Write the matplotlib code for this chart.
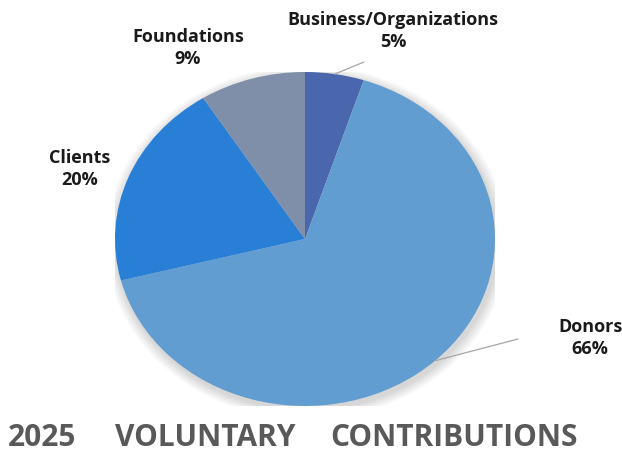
import matplotlib
matplotlib.use("Agg")
import matplotlib.pyplot as plt
import numpy as np
from matplotlib.patches import Ellipse

categories = ["Business/Organizations", "Donors", "Clients", "Foundations"]
values = [5, 66, 20, 9]
colors = ["#4A66AC", "#629DD1", "#297FD5", "#7F8FA9"]
title_words = ["2025", "VOLUNTARY", "CONTRIBUTIONS"]

W, H = 622, 456
fig = plt.figure(figsize=(W / 100, H / 100), dpi=100)
fig.patch.set_facecolor("white")

# pie box in pixels (left, top, right, bottom)
L, T, R, B = 115, 73, 495, 407
ax = fig.add_axes([L / W, 1 - B / H, (R - L) / W, (B - T) / H])

# soft shadow
for i in range(10):
    s = 1.0 + 0.006 * (10 - i)
    ax.add_patch(Ellipse((0.01, -0.02), 2 * s, 2 * s, color="#000000",
                         alpha=0.016, lw=0, zorder=0))

wedges, _ = ax.pie(values, colors=colors, startangle=90, counterclock=False,
                   radius=1.0, wedgeprops=dict(linewidth=0))
ax.set_xlim(-1, 1)
ax.set_ylim(-1, 1)
ax.set_aspect("auto")
ax.axis("off")

font = "Open Sans"
label_pos = {
    "Business/Organizations": (393, 31),
    "Donors": (590, 338),
    "Clients": (80, 169),
    "Foundations": (188, 48),
}
leader_end = {
    "Business/Organizations": (364, 63),
    "Donors": (518, 340),
}

for w, cat, v in zip(wedges, categories, values):
    px, py = label_pos[cat]
    fig.text(px / W, 1 - py / H, f"{cat}\n{v}%", ha="center", va="center",
             fontsize=13, fontweight="bold", color="#1a1a1a", family=font,
             linespacing=1.35)
    if cat in leader_end:
        ang = np.deg2rad((w.theta1 + w.theta2) / 2)
        ex, ey = leader_end[cat]
        ax.annotate("", xy=(np.cos(ang), np.sin(ang)), xycoords="data",
                    xytext=(ex / W, 1 - ey / H), textcoords="figure fraction",
                    arrowprops=dict(arrowstyle="-", color="#a6a6a6", lw=0.9,
                                    shrinkA=0, shrinkB=0))

title_x = [8, 115, 330]
for word, x in zip(title_words, title_x):
    fig.text(x / W, 1 - 438 / H, word, ha="left", va="center", fontsize=21.5,
             fontweight="bold", color="#595959", family=font)

fig.savefig("out.png", dpi=100, facecolor="white")
